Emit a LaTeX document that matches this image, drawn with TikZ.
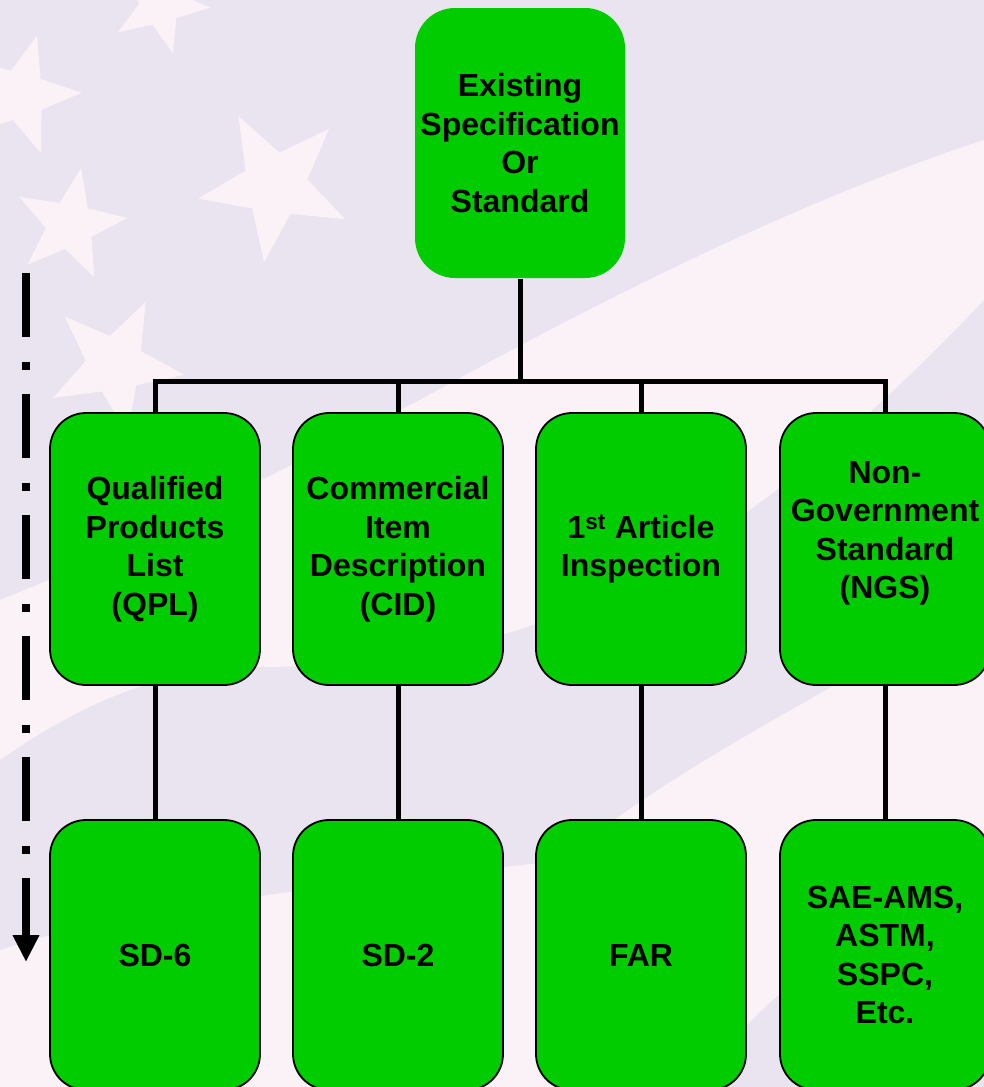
\documentclass[tikz,border=0pt]{standalone}
\usepackage{fontspec}
\setmainfont{Liberation Sans}
\usetikzlibrary{arrows.meta}
\definecolor{boxgreen}{RGB}{0,204,0}
\definecolor{bgdot}{RGB}{233,228,239}
\definecolor{bgwhite}{RGB}{250,242,247}
\newcommand\bgstar[4]{%
  \fill[bgwhite,shift={(#1,#2)},rotate=#4]
    (90:#3) -- (126:{0.42*#3}) -- (162:#3) -- (198:{0.42*#3}) -- (234:#3)
    -- (270:{0.42*#3}) -- (306:#3) -- (342:{0.42*#3}) -- (18:#3) -- (54:{0.42*#3}) -- cycle;}
\begin{document}
\begin{tikzpicture}[x=1pt,y=-1pt,
  box/.style={rounded corners=36pt, fill=boxgreen, draw=black, line width=1.8pt,
    minimum width=210pt, minimum height=272pt, inner sep=0pt, align=center,
    font=\fontsize{32}{38.5}\selectfont\bfseries},
  conn/.style={line width=5pt},
  flow/.style={line width=8pt, dash pattern=on 64pt off 25pt on 8pt off 24pt,
    -{Triangle[width=25pt,length=27pt]}}]
\useasboundingbox (0,0) rectangle (984,1087);
\clip (0,0) rectangle (984,1087);
% background
\fill[bgdot] (0,0) rectangle (984,1087);
\fill[bgwhite] (984,140) .. controls (800,200) and (600,300) .. (420,400)
  .. controls (300,460) and (150,540) .. (0,600) -- (0,760)
  .. controls (100,690) and (180,667) .. (263,667)
  .. controls (500,665) and (700,600) .. (984,300) -- cycle;
\fill[bgwhite] (984,600) .. controls (850,680) and (650,780) .. (565,860)
  .. controls (400,880) and (150,900) .. (0,950) -- (0,1087) -- (700,1087)
  .. controls (760,990) and (850,930) .. (984,900) -- cycle;
\bgstar{275}{185}{78}{-8}
\bgstar{115}{365}{70}{10}
\bgstar{20}{95}{62}{20}
\bgstar{70}{225}{58}{25}
\bgstar{160}{5}{50}{15}
% nodes
\node[box, draw=none, minimum height=270pt, rounded corners=40pt] (top) at (520,143)
  {Existing\\Specification\\Or\\Standard};
\node[box] (qpl) at (155,549) {Qualified\\Products\\List\\(QPL)};
\node[box] (cid) at (398,549) {Commercial\\Item\\Description\\(CID)};
\node[box] (fai) at (641,549) {1\textsuperscript{st} Article\\Inspection};
\node[box] (ngs) at (885,549) {Non-\\Government\\Standard\\(NGS)\\\mbox{}};
\node[box, minimum height=270pt] (sd6) at (155,955) {SD-6};
\node[box, minimum height=270pt] (sd2) at (398,955) {SD-2};
\node[box, minimum height=270pt] (far) at (641,955) {FAR};
\node[box, minimum height=270pt] (sae) at (885,955) {SAE-AMS,\\ASTM,\\SSPC,\\Etc.};
% connectors
\coordinate (bar) at (520,381);
\draw[conn] (top.south) -- (top.south |- bar);
\draw[conn, line cap=rect] (qpl.north |- bar) -- (ngs.north |- bar);
\draw[conn] (qpl.north |- bar) -- (qpl.north);
\draw[conn] (cid.north |- bar) -- (cid.north);
\draw[conn] (fai.north |- bar) -- (fai.north);
\draw[conn] (ngs.north |- bar) -- (ngs.north);
\draw[conn] (qpl.south) -- (sd6.north);
\draw[conn] (cid.south) -- (sd2.north);
\draw[conn] (fai.south) -- (far.north);
\draw[conn] (ngs.south) -- (sae.north);
% flow arrow
\coordinate (fs) at (26,273);
\coordinate (fe) at (26,962);
\draw[flow] (fs) -- (fe);
\end{tikzpicture}
\end{document}
